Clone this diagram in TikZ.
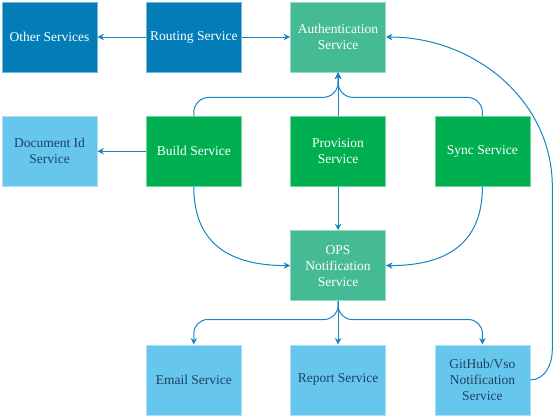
\documentclass[tikz,border=0pt]{standalone}
\usepackage{fontspec}
\setmainfont{Liberation Serif}
\usepackage{tikz}
\usetikzlibrary{arrows.meta,positioning}

\definecolor{routeblue}{HTML}{027DB8}
\definecolor{authteal}{HTML}{45BB95}
\definecolor{workgreen}{HTML}{00B050}
\definecolor{sideblue}{HTML}{66C6EC}
\definecolor{linkblue}{HTML}{1784C1}
\definecolor{sidetext}{HTML}{1F4068}

\begin{document}
\begin{tikzpicture}[
    x=1pt, y=1pt,
    node distance=43.5pt and 48.5pt,
    box/.style={rectangle, draw=#1!55!white, fill=#1, line width=0.8pt, minimum width=95pt, minimum height=70pt, align=center, inner sep=2pt, text=white, font=\fontsize{13.5}{16}\selectfont},
    side/.style={box=sideblue, text=sidetext},
    arrow/.style={-{Stealth[length=6.5pt, width=6.5pt]}, linkblue, line width=1pt}
]
    \useasboundingbox (0,0) rectangle (553,-415);

    \node[box=routeblue] (other) at (49.5,-37) {Other Services};
    \node[box=routeblue, right=of other] (routing) {Routing Service};
    \node[box=authteal, right=of routing] (auth) {Authentication\\Service};
    \node[side, below=of other] (docid) {Document Id\\Service};
    \node[box=workgreen, right=of docid] (build) {Build Service};
    \node[box=workgreen, below=of auth] (provision) {Provision\\Service};
    \node[box=workgreen, right=of provision] (sync) {Sync Service};
    \node[box=authteal, below=of provision] (ops) {OPS\\Notification\\Service};
    \node[side, below=of ops] (report) {Report Service};
    \node[side, left=of report] (email) {Email Service};
    \node[side, right=of report] (github) {GitHub/Vso\\Notification\\Service};

    \draw[arrow] (routing) -- (other);
    \draw[arrow] (routing) -- (auth);
    \draw[arrow] (build) -- (docid);
    \draw[arrow, rounded corners=15pt] (build.north) |- ([yshift=-25pt]auth.south) -- (auth.south);
    \draw[arrow, rounded corners=15pt] (sync.north) |- ([yshift=-25pt]auth.south) -- (auth.south);
    \draw[arrow] (provision) -- (auth);
    \draw[arrow] (provision) -- (ops);
    \draw[arrow] (build.south) to[out=-90, in=180, looseness=1.2] (ops.west);
    \draw[arrow] (sync.south) to[out=-90, in=0, looseness=1.2] (ops.east);
    \draw[arrow, rounded corners=14pt] (ops.south) |- ([yshift=25pt]email.north) -- (email.north);
    \draw[arrow, rounded corners=14pt] (ops.south) |- ([yshift=25pt]github.north) -- (github.north);
    \draw[arrow] (ops) -- (report);
    \draw[arrow] (github.east) to[out=0, in=-90] ([xshift=22pt, yshift=30pt]github.east)
        -- ([xshift=22pt]github.east |- build.south) to[out=90, in=0] (auth.east);
\end{tikzpicture}
\end{document}
